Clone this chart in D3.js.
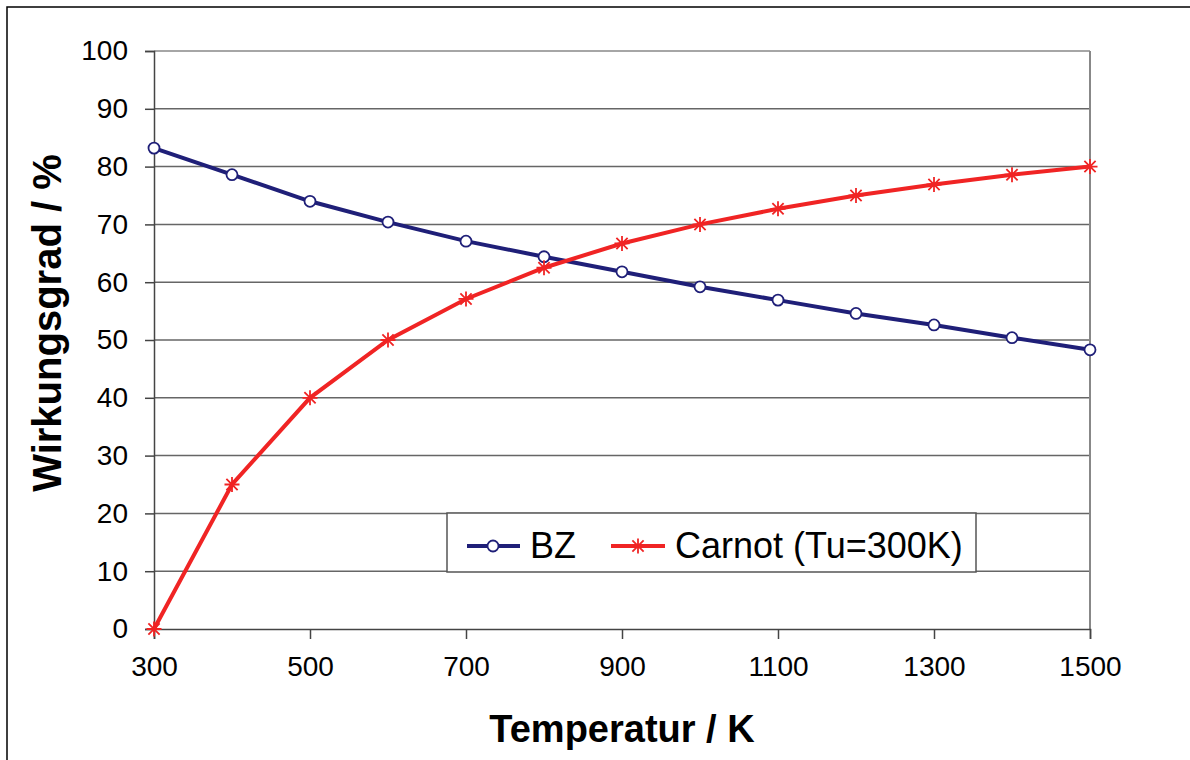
<!DOCTYPE html>
<html><head><meta charset="utf-8">
<script src="https://cdn.jsdelivr.net/npm/d3@7"></script>
<style>body{margin:0;background:#fff;} svg{display:block;font-family:"Liberation Sans",Arial,sans-serif;}</style>
</head><body>
<svg id="c" width="1190" height="760"></svg>
<script>
const temps = [300,400,500,600,700,800,900,1000,1100,1200,1300,1400,1500];
const bzValues = [83.2,78.6,74.0,70.4,67.1,64.4,61.8,59.2,56.9,54.6,52.6,50.4,48.3];
const carnotValues = [0,25,40,50,57.1,62.5,66.7,70,72.7,75,76.9,78.6,80];
const yTicks = [0,10,20,30,40,50,60,70,80,90,100];
const xTicks = [300,500,700,900,1100,1300,1500];
const seriesNames = ["BZ","Carnot (Tu=300K)"];

const svg = d3.select("#c");
const L=154,R=1090,T=51,B=629;
const x = d3.scaleLinear().domain([300,1500]).range([L,R]);
const y = d3.scaleLinear().domain([0,100]).range([B,T]);
const FF = "Liberation Sans, Arial, sans-serif";

// outer frame
svg.append("rect").attr("x",7).attr("y",7).attr("width",1200).attr("height",800)
  .attr("fill","none").attr("stroke","#000").attr("stroke-width",1.5);

// gridlines
svg.append("g").selectAll("line").data(yTicks.filter(d=>d>0)).join("line")
  .attr("x1",L).attr("x2",R).attr("y1",d=>y(d)).attr("y2",d=>y(d))
  .attr("stroke",d=>d===100?"#888":"#666").attr("stroke-width",1.5);
// right border
svg.append("line").attr("x1",R).attr("x2",R).attr("y1",T).attr("y2",B)
  .attr("stroke","#888").attr("stroke-width",2);

// y axis
const ya = svg.append("g").attr("transform",`translate(${L},0)`)
  .call(d3.axisLeft(y).tickValues(yTicks).tickSize(9).tickPadding(17).tickFormat(d3.format("d")));
ya.attr("font-size",28).attr("font-family",FF);
ya.select(".domain").attr("stroke","#444").attr("stroke-width",1.5);
ya.selectAll(".tick line").attr("stroke","#444").attr("stroke-width",1.5);
ya.selectAll("text").attr("fill","#000");

// x axis
const xa = svg.append("g").attr("transform",`translate(0,${B})`)
  .call(d3.axisBottom(x).tickValues(xTicks).tickSize(10).tickPadding(17).tickFormat(d3.format("d")));
xa.attr("font-size",28).attr("font-family",FF);
xa.select(".domain").attr("stroke","#444").attr("stroke-width",1.5);
xa.selectAll(".tick line").attr("stroke","#444").attr("stroke-width",1.5);
xa.selectAll("text").attr("fill","#000");

// titles
svg.append("text").attr("x",622).attr("y",742).attr("text-anchor","middle")
  .attr("font-size",38).attr("font-weight","bold").text("Temperatur / K");
svg.append("text").attr("transform","translate(61,323) rotate(-90)").attr("text-anchor","middle")
  .attr("font-size",40).attr("font-weight","bold").text("Wirkungsgrad / %");

const blue="#1f1f78", red="#f02424";
const line = d3.line().x(d=>x(d[0])).y(d=>y(d[1]));
const bz = temps.map((t,i)=>[t,bzValues[i]]);
const ca = temps.map((t,i)=>[t,carnotValues[i]]);

function circleMarker(g,cx,cy){
  g.append("circle").attr("cx",cx).attr("cy",cy).attr("r",5.5)
   .attr("fill","#fff").attr("stroke",blue).attr("stroke-width",1.8);
}
function starMarker(g,cx,cy){
  const s=7.5;
  const p = `M${cx-s},${cy}L${cx+s},${cy}M${cx},${cy-s}L${cx},${cy+s}M${cx-s*0.75},${cy-s*0.75}L${cx+s*0.75},${cy+s*0.75}M${cx-s*0.75},${cy+s*0.75}L${cx+s*0.75},${cy-s*0.75}`;
  g.append("path").attr("d",p).attr("stroke",red).attr("stroke-width",1.8).attr("fill","none");
}

const gb = svg.append("g");
gb.append("path").attr("d",line(bz)).attr("fill","none").attr("stroke",blue).attr("stroke-width",4);
bz.forEach(d=>circleMarker(gb,x(d[0]),y(d[1])));
const gc = svg.append("g");
gc.append("path").attr("d",line(ca)).attr("fill","none").attr("stroke",red).attr("stroke-width",4);
ca.forEach(d=>starMarker(gc,x(d[0]),y(d[1])));

// legend
const lg = svg.append("g");
lg.append("rect").attr("x",447).attr("y",513).attr("width",529).attr("height",59)
  .attr("fill","#fff").attr("stroke","#555").attr("stroke-width",1.5);
lg.append("line").attr("x1",467).attr("x2",520).attr("y1",546).attr("y2",546).attr("stroke",blue).attr("stroke-width",4);
circleMarker(lg,493,546);
lg.append("text").attr("x",530).attr("y",558).attr("font-size",36).text(seriesNames[0]);
lg.append("line").attr("x1",611).attr("x2",665).attr("y1",546).attr("y2",546).attr("stroke",red).attr("stroke-width",4);
starMarker(lg,638,546);
lg.append("text").attr("x",675).attr("y",558).attr("font-size",36).text(seriesNames[1]);
</script>
</body></html>
